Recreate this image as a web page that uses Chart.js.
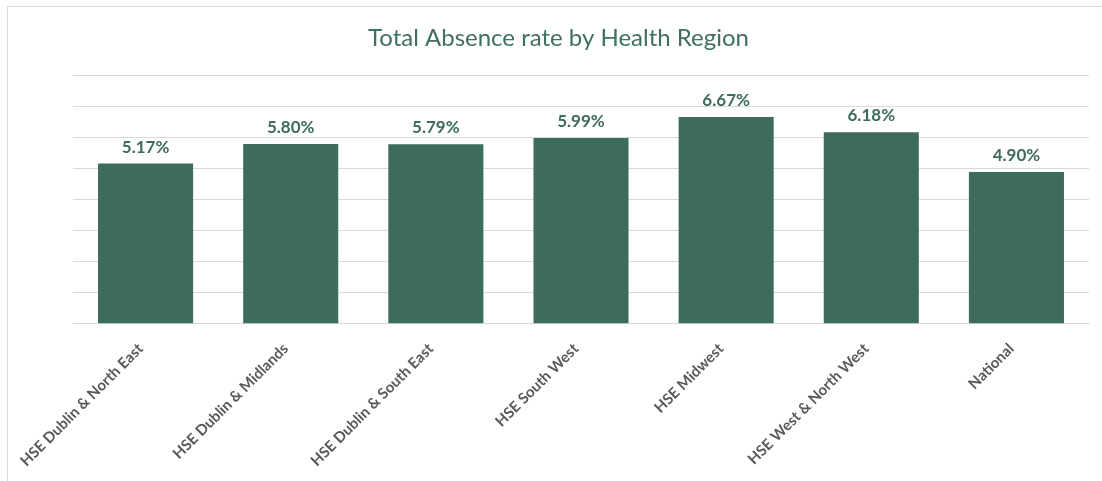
<!DOCTYPE html>
<html>
<head>
<meta charset="utf-8">
<script src="https://cdn.jsdelivr.net/npm/chart.js@4.4.0/dist/chart.umd.min.js"></script>
<style>
  html, body { margin: 0; padding: 0; background: #fff; }
  #frame { position: absolute; left: 7px; top: 6px; width: 1110px; height: 490px; border: 1px solid #d9d9d9; }
  #myChart { position: absolute; left: 0; top: 0; }
</style>
</head>
<body>
<div id="frame"></div>
<canvas id="myChart" width="1102" height="481"></canvas>
<script>
const regions = [
  'HSE Dublin & North East',
  'HSE Dublin & Midlands',
  'HSE Dublin & South East',
  'HSE South West',
  'HSE Midwest',
  'HSE West & North West',
  'National'
]
const absenceRate = [5.17, 5.80, 5.79, 5.99, 6.67, 6.18, 4.90]

const green = '#3d6b5c'

// draws the % value above each bar
const valueLabels = {
  id: 'valueLabels',
  afterDatasetsDraw(chart) {
    const ctx = chart.ctx
    const meta = chart.getDatasetMeta(0)
    ctx.save()
    ctx.font = 'bold 17px Lato'
    ctx.fillStyle = green
    ctx.textAlign = 'center'
    ctx.textBaseline = 'alphabetic'
    meta.data.forEach((bar, i) => {
      ctx.fillText(absenceRate[i].toFixed(2) + '%', bar.x, bar.y - 11)
    })
    ctx.restore()
  }
}

let ctx = document.getElementById('myChart')
let chart = new Chart(ctx, {
  type: 'bar',
  data: {
    labels: regions,
    datasets: [{
      data: absenceRate,
      backgroundColor: green,
      categoryPercentage: 1,
      barPercentage: 0.655
    }]
  },
  options: {
    responsive: false,
    animation: false,
    layout: { padding: { left: 28, right: 13, top: 0, bottom: 3 } },
    plugins: {
      legend: { display: false },
      tooltip: { enabled: false },
      title: {
        display: true,
        text: 'Total Absence rate by Health Region',
        color: '#40705f',
        font: { family: 'Lato', size: 24, weight: 'normal' },
        padding: { top: 24, bottom: 23 }
      }
    },
    scales: {
      x: {
        grid: { display: false },
        border: { display: true, color: '#d9d9d9' },
        ticks: {
          color: '#595959',
          font: { family: 'Lato', size: 15, weight: 'bold' },
          maxRotation: 45,
          minRotation: 45,
          padding: 8,
          labelOffset: -5
        }
      },
      y: {
        min: 0,
        max: 8,
        afterFit(scale) { scale.width = 45 },
        ticks: { display: false, stepSize: 1 },
        grid: { color: '#d9d9d9', drawTicks: false },
        border: { display: false }
      }
    }
  },
  plugins: [valueLabels]
})
</script>
</body>
</html>
